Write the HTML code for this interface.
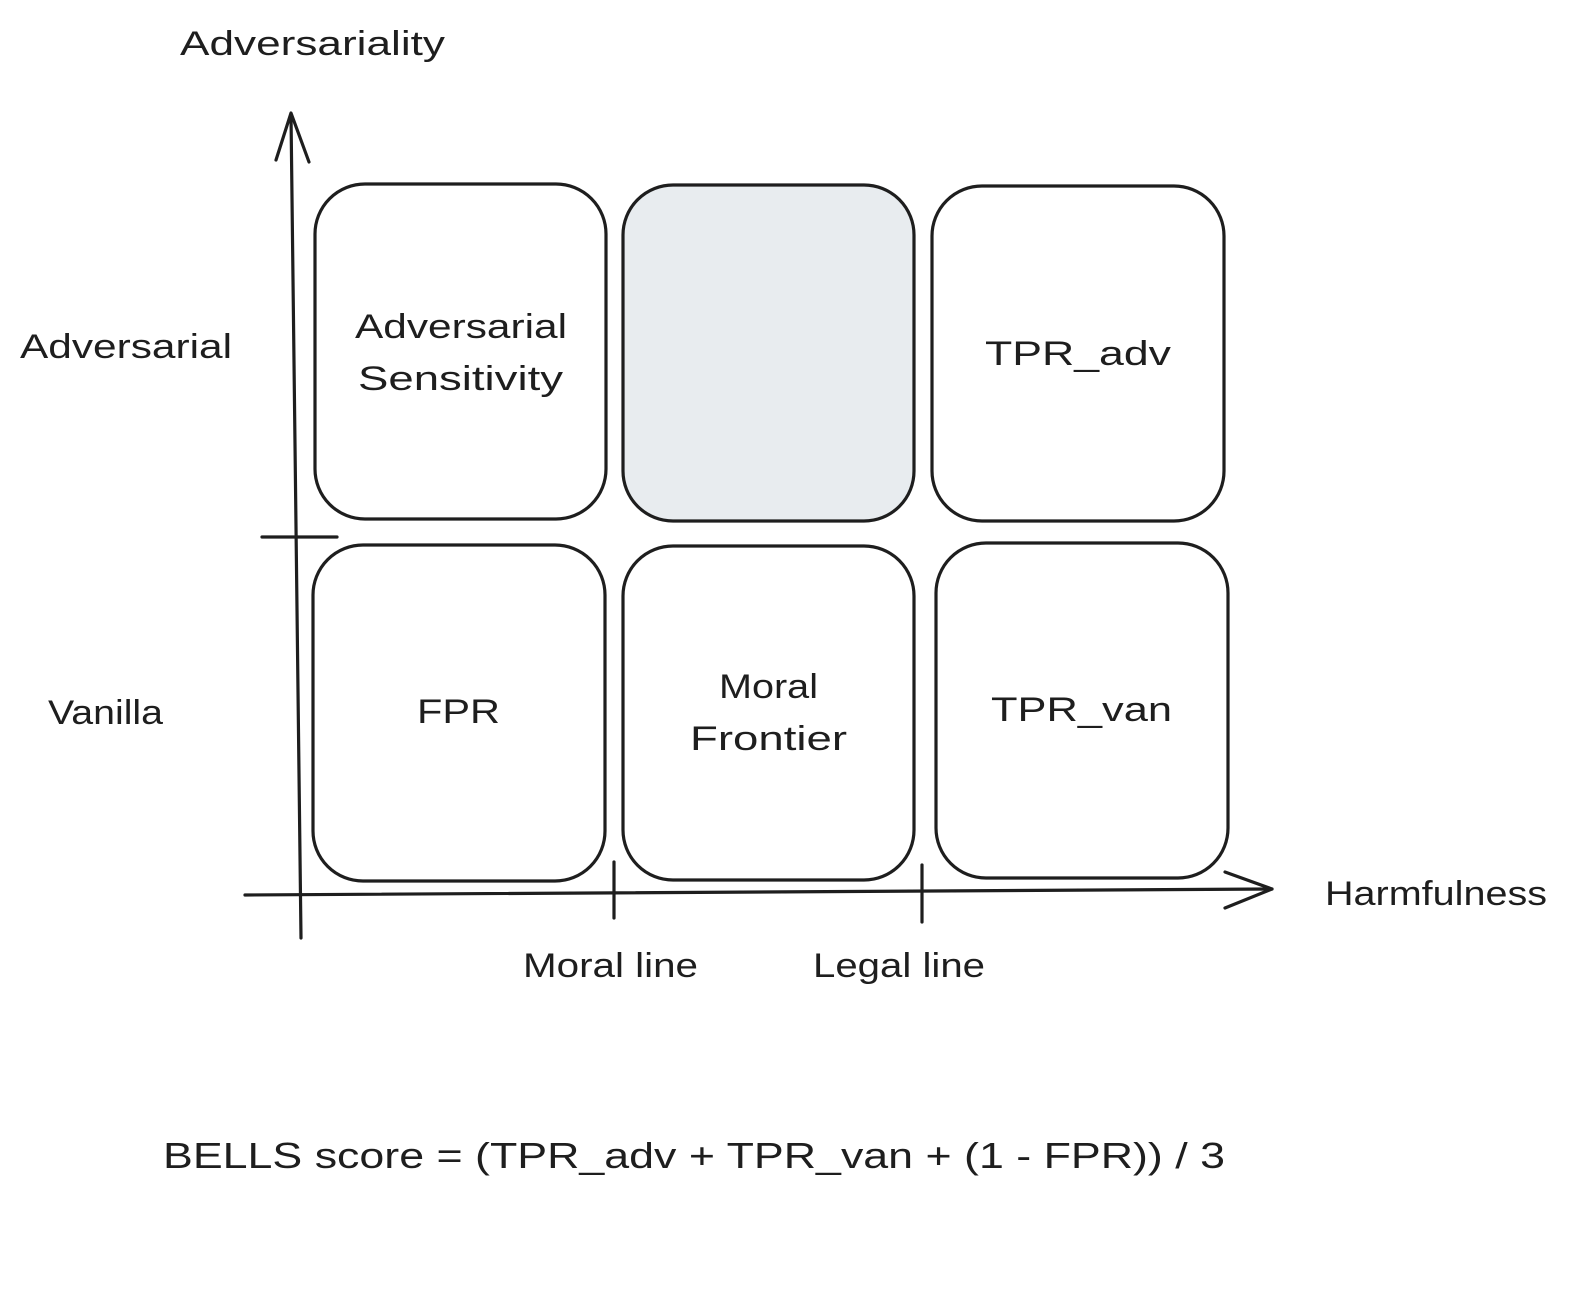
<!DOCTYPE html>
<html><head><meta charset="utf-8"><style>
html,body{margin:0;padding:0;background:#fff;}
svg{display:block;}
text{font-family:"Liberation Sans",sans-serif;fill:#1e1e1e;}
</style></head><body>
<svg width="1579" height="1311" viewBox="0 0 1579 1311" xmlns="http://www.w3.org/2000/svg">
<g fill="none" stroke="#1e1e1e" stroke-width="3.2" stroke-linecap="round" stroke-linejoin="round">
<!-- Y axis -->
<path d="M301 938 L291 115"/>
<path d="M276 160 L291 113 L309 162"/>
<path d="M262 537 L337 537"/>
<!-- X axis -->
<path d="M245 895 L1272 889"/>
<path d="M1225 872 L1272 889 L1225 908"/>
<path d="M614 862 L614 918"/>
<path d="M922 865 L922 922"/>
<!-- boxes -->
<rect x="315" y="184" width="291" height="335" rx="50"/>
<rect x="623" y="185" width="291" height="336" rx="50" fill="#e8ecef"/>
<rect x="932" y="186" width="292" height="335" rx="50"/>
<rect x="313" y="545" width="292" height="336" rx="50"/>
<rect x="623" y="546" width="291" height="334" rx="50"/>
<rect x="936" y="543" width="292" height="335" rx="50"/>
</g>
<g font-size="34">
<text x="180" y="55" textLength="265" lengthAdjust="spacingAndGlyphs">Adversariality</text>
<text x="20" y="358" textLength="212" lengthAdjust="spacingAndGlyphs">Adversarial</text>
<text x="48" y="724" textLength="115" lengthAdjust="spacingAndGlyphs">Vanilla</text>
<text x="1325" y="905" textLength="222" lengthAdjust="spacingAndGlyphs">Harmfulness</text>
<text x="523" y="977" textLength="175" lengthAdjust="spacingAndGlyphs">Moral line</text>
<text x="813" y="977" textLength="172" lengthAdjust="spacingAndGlyphs">Legal line</text>
<text x="355" y="338" textLength="212" lengthAdjust="spacingAndGlyphs">Adversarial</text>
<text x="358" y="390" textLength="205" lengthAdjust="spacingAndGlyphs">Sensitivity</text>
<text x="985" y="365" textLength="186" lengthAdjust="spacingAndGlyphs">TPR_adv</text>
<text x="417" y="723" textLength="83" lengthAdjust="spacingAndGlyphs">FPR</text>
<text x="719" y="698" textLength="99" lengthAdjust="spacingAndGlyphs">Moral</text>
<text x="690" y="750" textLength="157" lengthAdjust="spacingAndGlyphs">Frontier</text>
<text x="991" y="721" textLength="181" lengthAdjust="spacingAndGlyphs">TPR_van</text>
<text x="163" y="1168" font-size="36" textLength="1062" lengthAdjust="spacingAndGlyphs">BELLS score = (TPR_adv + TPR_van + (1 - FPR)) / 3</text>
</g>
</svg>
</body></html>
